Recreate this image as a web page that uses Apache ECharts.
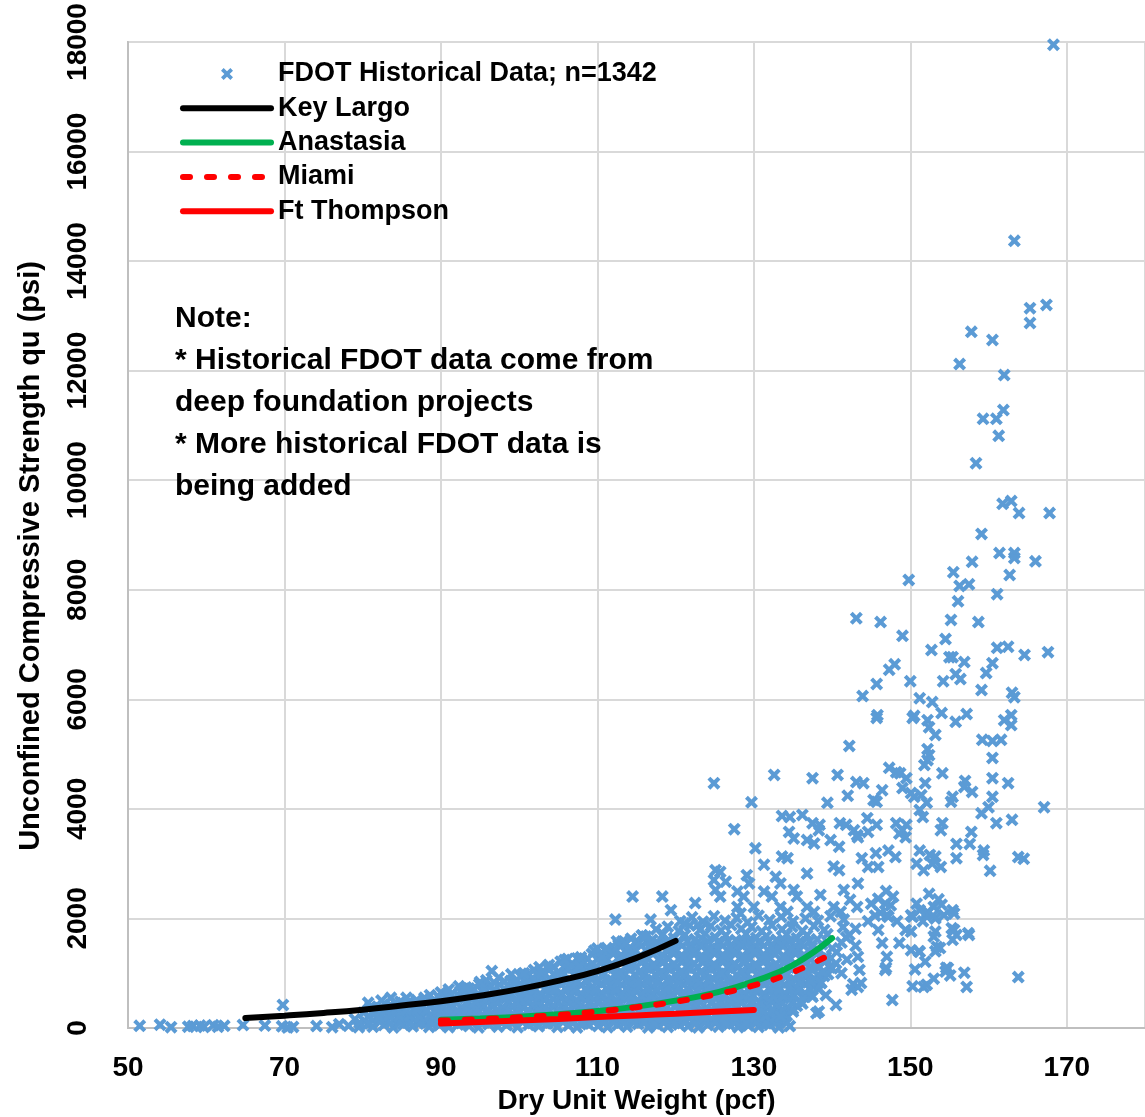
<!DOCTYPE html>
<html><head><meta charset="utf-8">
<script src="https://cdn.jsdelivr.net/npm/echarts@6/dist/echarts.min.js"></script>
<style>html,body{margin:0;padding:0;background:#fff}#c{width:1145px;height:1117px}</style>
</head><body><div id="c"></div><script>
// ---------- text ----------
const SERIES_NAMES = ['FDOT Historical Data; n=1342', 'Key Largo', 'Anastasia', 'Miami', 'Ft Thompson'];
const X_TITLE = 'Dry Unit Weight (pcf)';
const Y_TITLE = 'Unconfined Compressive Strength qu (psi)';
const NOTE_LINES = ['Note:', '* Historical FDOT data come from', 'deep foundation projects', '* More historical FDOT data is', 'being added'];
const X_TICKS = [50, 70, 90, 110, 130, 150, 170];
const Y_TICKS = [0, 2000, 4000, 6000, 8000, 10000, 12000, 14000, 16000, 18000];

// ---------- trend curves ----------
const keyLargo = [[65,183],[70,225],[75,275],[80,335],[85,410],[90,490],[95,590],[100,710],[105,860],[110,1040],[115,1280],[120,1590]];
const anastasia = [[90,150],[95,175],[100,205],[105,250],[110,310],[115,390],[120,500],[125,640],[130,850],[135,1150],[140,1640]];
const miami = [[90,135],[95,160],[100,195],[105,240],[110,300],[115,380],[120,480],[125,610],[130,780],[135,1020],[140,1360]];
const ftThompson = [[90,82],[95,110],[100,135],[105,165],[110,200],[115,230],[120,260],[125,295],[130,330]];

// ---------- FDOT scatter ----------
const fdotLeft = [[51.5,40],[54.1,60],[55.5,15],[57.7,25],[58.3,35],[59.2,45],[59.7,20],[60.9,50],[61.5,25],[62.3,40],[64.7,55],[67.5,45],[69.8,420],[69.7,30],[70.4,10],[71.1,20],[74.1,35],[76.1,15],[77.0,70]];

const fdotBandLow = [
[78.2,40],[79.5,15],[80.6,70],[81.3,25],[82.7,55],[83.9,10],[85.2,60],[86.4,30],[87.1,80],[88.5,20],[89.8,50],[91.0,15],[92.2,65],[93.6,35],[94.8,10],[96.1,70],[97.3,25],[98.4,55],[99.8,15],[101.2,60],[102.5,30],[103.6,80],[104.9,20],[106.3,45],[107.4,10],[108.8,70],[110.1,35],[111.3,15],[112.6,60],[113.8,25],[115.2,75],[116.5,10],[117.7,50],[119.0,20],[120.4,65],[121.6,30],[122.9,10],[124.1,55],[125.5,25],[126.8,70],[128.0,15],[129.3,45],[130.6,20],[132.0,60],[133.2,10],[134.6,35],
[79.0,160],[80.2,130],[81.9,185],[83.1,140],[84.5,175],[85.8,135],[87.6,190],[88.9,150],[90.3,170],[91.6,130],[92.9,185],[94.2,145],[95.5,175],[96.8,130],[98.0,190],[99.1,150],[100.5,165],[101.8,135],[103.0,185],[104.3,140],[105.6,175],[106.9,130],[108.1,190],[109.4,150],[110.7,170],[112.0,135],[113.2,185],[114.5,145],[115.9,175],[117.1,130],[118.4,190],[119.7,150],[121.0,170],[122.3,135],[123.5,185],[124.8,140],[126.1,175],[127.4,130],[128.7,190],[130.0,150],[131.3,170],[132.6,135],[133.9,185],
[80.1,280],[81.4,250],[82.6,300],[84.0,260],[85.3,290],[86.7,245],[88.0,305],[89.4,265],[90.7,285],[92.0,250],[93.3,300],[94.6,260],[95.9,290],[97.2,245],[98.6,305],[99.9,265],[101.1,285],[102.4,250],[103.8,300],[105.1,260],[106.4,290],[107.7,245],[109.0,305],[110.3,265],[111.6,285],[112.9,250],[114.2,300],[115.5,260],[116.8,290],[118.1,245],[119.4,305],[120.7,265],[122.0,285],[123.3,250],[124.6,300],[125.9,260],[127.2,290],[128.5,245],[129.8,305],[131.1,265],[132.4,285],[133.7,250],[135.0,300],
[81.0,390],[82.2,360],[83.5,420],[84.9,370],[86.1,410],[87.4,355],[88.8,400],[90.1,375],[91.4,425],[92.7,360],[94.0,405],[95.3,370],[96.6,420],[97.9,355],[99.2,400],[100.5,375],[101.8,425],[103.1,360],[104.4,405],[105.7,370],[107.0,420],[108.3,355],[109.6,400],[110.9,375],[112.2,425],[113.5,360],[114.8,405],[116.1,370],[117.4,420],[118.7,355],[120.0,400],[121.3,375],[122.6,425],[123.9,360],[125.2,405],[126.5,370],[127.8,420],[129.1,355],[130.4,400],[131.7,375],[133.0,425],[134.3,360],[135.5,405]
];

const fdotFillLow = [
[79.6,95],[80.9,80],[82.2,110],[83.5,90],[84.8,100],[86.1,85],[87.4,105],[88.7,95],[90.0,80],[91.3,110],[92.6,90],[93.9,100],[95.2,85],[96.5,105],[97.8,95],[99.1,80],[100.4,110],[101.7,90],[103.0,100],[104.3,85],[105.6,105],[106.9,95],[108.2,80],[109.5,110],[110.8,90],[112.1,100],[113.4,85],[114.7,105],[116.0,95],[117.3,80],[118.6,110],[119.9,90],[121.2,100],[122.5,85],[123.8,105],[125.1,95],[126.4,80],[127.7,110],[129.0,90],[130.3,100],[131.6,85],[132.9,105],[134.2,95],
[80.8,215],[82.1,200],[83.4,230],[84.7,210],[86.0,220],[87.3,205],[88.6,225],[89.9,215],[91.2,200],[92.5,230],[93.8,210],[95.1,220],[96.4,205],[97.7,225],[99.0,215],[100.3,200],[101.6,230],[102.9,210],[104.2,220],[105.5,205],[106.8,225],[108.1,215],[109.4,200],[110.7,230],[112.0,210],[113.3,220],[114.6,205],[115.9,225],[117.2,215],[118.5,200],[119.8,230],[121.1,210],[122.4,220],[123.7,205],[125.0,225],[126.3,215],[127.6,200],[128.9,230],[130.2,210],[131.5,220],[132.8,205],[134.1,225],
[81.7,335],[83.0,320],[84.3,350],[85.6,330],[86.9,340],[88.2,325],[89.5,345],[90.8,335],[92.1,320],[93.4,350],[94.7,330],[96.0,340],[97.3,325],[98.6,345],[99.9,335],[101.2,320],[102.5,350],[103.8,330],[105.1,340],[106.4,325],[107.7,345],[109.0,335],[110.3,320],[111.6,350],[112.9,330],[114.2,340],[115.5,325],[116.8,345],[118.1,335],[119.4,320],[120.7,350],[122.0,330],[123.3,340],[124.6,325],[125.9,345],[127.2,335],[128.5,320],[129.8,350],[131.1,330],[132.4,340],[133.7,325],[135.0,345],
[84.2,455],[85.5,440],[86.8,470],[88.1,450],[89.4,460],[90.7,445],[92.0,465],[93.3,455],[94.6,440],[95.9,470],[97.2,450],[98.5,460],[99.8,445],[101.1,465],[102.4,455],[103.7,440],[105.0,470],[106.3,450],[107.6,460],[108.9,445],[110.2,465],[111.5,455],[112.8,440],[114.1,470],[115.4,450],[116.7,460],[118.0,445],[119.3,465],[120.6,455],[121.9,440],[123.2,470],[124.5,450],[125.8,460],[127.1,445],[128.4,465],[129.7,455],[131.0,440],[132.3,470],[133.6,450],[134.9,460],[136.2,445]
];

const fdotFillHigh = [
[89.6,580],[90.9,570],[92.2,595],[93.5,575],[94.8,590],[96.1,570],[97.4,585],[98.7,580],[100.0,570],[101.3,595],[102.6,575],[103.9,590],[105.2,570],[106.5,585],[107.8,580],[109.1,570],[110.4,595],[111.7,575],[113.0,590],[114.3,570],[115.6,585],[116.9,580],[118.2,570],[119.5,595],[120.8,575],[122.1,590],[123.4,570],[124.7,585],[126.0,580],[127.3,570],[128.6,595],[129.9,575],[131.2,590],[132.5,570],[133.8,585],[135.1,580],[136.4,570],[137.4,595],
[91.0,705],[92.9,715],[94.2,700],[95.5,720],[96.8,705],[98.1,715],[99.4,700],[100.7,720],[102.0,705],[103.3,715],[104.6,700],[105.9,720],[107.2,705],[108.5,715],[109.8,700],[111.1,720],[112.4,705],[113.7,715],[115.0,700],[116.3,720],[117.6,705],[118.9,715],[120.2,700],[121.5,720],[122.8,705],[124.1,715],[125.4,700],[126.7,720],[128.0,705],[129.3,715],[130.6,700],[131.9,720],[133.2,705],[134.5,715],[135.8,700],[137.1,720],[138.3,705],
[95.0,840],[96.8,830],[98.1,850],[99.5,835],[100.9,845],[102.2,830],[103.5,850],[104.8,835],[106.1,845],[107.4,830],[108.7,850],[110.0,835],[111.3,845],[112.6,830],[113.9,850],[115.2,835],[116.5,845],[117.8,830],[119.1,850],[120.4,835],[121.7,845],[123.0,830],[124.3,850],[125.6,835],[126.9,845],[128.2,830],[129.5,850],[130.8,835],[132.1,845],[133.4,830],[134.7,850],[136.0,835],[137.3,845],[138.6,830],
[99.0,980],[100.4,975],[101.2,990],[102.3,970],[103.3,985],[104.4,975],[105.7,990],[107.0,970],[108.3,985],[109.6,975],[110.9,990],[112.2,970],[113.5,985],[114.8,975],[116.1,990],[117.4,970],[118.7,985],[120.0,975],[121.3,990],[122.6,970],[123.9,985],[125.2,975],[126.5,990],[127.8,970],[129.1,985],[130.4,975],[131.7,990],[133.0,970],[134.3,985],[135.6,975],[136.9,990],[138.2,970],[139.5,985],
[102.6,1110],[104.4,1120],[105.9,1100],[107.2,1115],[108.5,1105],[109.8,1120],[111.1,1100],[112.4,1115],[113.7,1105],[115.0,1120],[116.3,1100],[117.6,1115],[118.9,1105],[120.2,1120],[121.5,1100],[122.8,1115],[124.1,1105],[125.4,1120],[126.7,1100],[128.0,1115],[129.3,1105],[130.6,1120],[131.9,1100],[133.2,1115],[134.5,1105],[135.8,1120],[137.1,1100],[138.4,1115],[139.7,1105],
[106.2,1260],[107.4,1270],[108.7,1255],[110.0,1265],[111.3,1250],[112.6,1270],[113.9,1260],[115.2,1255],[116.5,1270],[117.8,1250],[119.1,1265],[120.4,1260],[121.7,1250],[123.0,1270],[124.3,1255],[125.6,1265],[126.9,1250],[128.2,1270],[129.5,1260],[130.8,1255],[132.1,1270],[133.4,1250],[134.7,1265],[136.0,1260],[137.3,1250],[138.6,1270],
[109.6,1410],[111.0,1420],[112.3,1400],[113.6,1415],[114.9,1405],[116.2,1420],[117.5,1400],[118.8,1415],[120.1,1405],[121.4,1420],[122.7,1400],[124.0,1415],[125.3,1405],[126.6,1420],[127.9,1400],[129.2,1415],[130.5,1405],[131.8,1420],[133.1,1400],[134.4,1415],[135.7,1405],[137.0,1420],[138.3,1400],
[113.2,1580],[114.9,1570],[116.3,1585],[117.6,1565],[118.9,1580],[120.2,1570],[121.5,1585],[122.8,1565],[124.1,1580],[125.4,1570],[126.7,1585],[128.0,1565],[129.3,1580],[130.6,1570],[131.9,1585],[133.2,1565],[134.5,1580],[135.8,1570],[137.1,1585]
];

const fdotBandMid = [
[80.7,460],[82.4,500],[83.6,550],[84.8,480],[85.6,550],[86.9,510],[87.9,550],[89.0,470],[90.4,530],[91.8,490],[93.1,545],[94.4,475],[95.7,520],[97.0,495],[98.3,540],[99.6,470],[100.9,525],[102.2,490],[103.5,545],[104.8,475],[106.1,520],[107.4,495],[108.7,540],[110.0,470],[111.3,525],[112.6,490],[113.9,545],[115.2,475],[116.5,520],[117.8,495],[119.1,540],[120.4,470],[121.7,525],[123.0,490],[124.3,545],[125.6,475],[126.9,520],[128.2,495],[129.5,540],[130.8,470],[132.1,525],[133.4,490],[134.7,545],[136.0,480],
[88.6,600],[90.0,650],[91.3,610],[92.5,670],[93.9,620],[95.2,680],[96.4,600],[97.7,650],[99.0,615],[100.3,675],[101.6,630],[102.9,595],[104.2,660],[105.5,620],[106.8,680],[108.1,600],[109.4,650],[110.7,615],[112.0,675],[113.3,630],[114.6,595],[115.9,660],[117.2,620],[118.5,680],[119.8,600],[121.1,650],[122.4,615],[123.7,675],[125.0,630],[126.3,595],[127.6,660],[128.9,620],[130.2,680],[131.5,600],[132.8,650],[134.1,615],[135.4,675],[136.6,630],
[92.3,760],[93.6,720],[94.9,800],[96.2,740],[97.5,790],[98.8,730],[100.1,810],[101.4,750],[102.7,790],[104.0,725],[105.3,805],[106.6,745],[107.9,785],[109.2,730],[110.5,810],[111.8,750],[113.1,790],[114.4,725],[115.7,805],[117.0,745],[118.3,785],[119.6,730],[120.9,810],[122.2,750],[123.5,790],[124.8,725],[126.1,805],[127.4,745],[128.7,785],[130.0,730],[131.3,810],[132.6,750],[133.9,790],[135.2,725],[136.5,805],[137.6,750],
[95.8,870],[97.4,920],[98.9,860],[100.2,940],[101.5,880],[102.8,950],[104.1,870],[105.4,930],[106.7,860],[108.0,945],[109.3,885],[110.6,955],[111.9,870],[113.2,925],[114.5,860],[115.8,940],[117.1,880],[118.4,950],[119.7,870],[121.0,930],[122.3,860],[123.6,945],[124.9,885],[126.2,955],[127.5,870],[128.8,925],[130.1,860],[131.4,940],[132.7,880],[134.0,950],[135.3,870],[136.6,930],[137.9,880],[139.0,950]
];

const fdotBandHigh = [
[100.6,1000],[101.9,1060],[102.9,1010],[103.7,1090],[105.0,1020],[106.3,1080],[107.6,995],[108.9,1070],[110.2,1030],[111.5,1095],[112.8,1005],[114.1,1065],[115.4,1025],[116.7,1085],[118.0,1000],[119.3,1060],[120.6,1010],[121.9,1090],[123.2,1020],[124.5,1080],[125.8,995],[127.1,1070],[128.4,1030],[129.7,1095],[131.0,1005],[132.3,1065],[133.6,1025],[134.9,1085],[136.2,1000],[137.5,1060],[138.8,1020],[140.0,1090],
[103.8,1150],[105.3,1210],[106.7,1140],[108.0,1240],[109.4,1170],[110.7,1220],[112.0,1135],[113.3,1250],[114.6,1180],[115.9,1230],[117.2,1145],[118.5,1215],[119.8,1160],[121.1,1245],[122.4,1175],[123.7,1225],[125.0,1140],[126.3,1240],[127.6,1165],[128.9,1215],[130.2,1150],[131.5,1250],[132.8,1170],[134.1,1225],[135.4,1140],[136.7,1210],[138.0,1160],[139.3,1240],[140.5,1180],
[107.9,1290],[109.3,1350],[110.6,1300],[111.9,1390],[113.2,1310],[114.5,1370],[115.8,1285],[117.1,1360],[118.4,1320],[119.7,1395],[121.0,1300],[122.3,1350],[123.6,1285],[124.9,1380],[126.2,1315],[127.5,1365],[128.8,1290],[130.1,1395],[131.4,1325],[132.7,1355],[134.0,1290],[135.3,1375],[136.6,1310],[137.9,1360],[139.2,1300],[140.6,1385],
[111.2,1460],[112.7,1520],[114.0,1440],[115.3,1550],[116.6,1470],[117.9,1530],[119.2,1445],[120.5,1555],[121.8,1475],[123.1,1515],[124.4,1440],[125.7,1545],[127.0,1465],[128.3,1525],[129.6,1450],[130.9,1560],[132.2,1480],[133.5,1520],[134.8,1445],[136.1,1540],[137.4,1470],[138.7,1530],[140.0,1455],[141.2,1560],
[114.3,1630],[115.7,1690],[117.0,1610],[118.4,1710],[119.8,1640],[121.2,1700],[122.5,1620],[123.8,1720],[125.1,1650],[126.4,1690],[127.7,1605],[129.0,1715],[130.3,1645],[131.6,1680],[132.9,1610],[134.2,1705],[135.5,1640],[136.8,1695],[138.1,1620],[139.4,1710],[141.8,1650],
[117.5,1800],[119.0,1850],[120.4,1770],[121.8,1870],[123.1,1790],[124.5,1860],[125.8,1780],[127.1,1880],[128.4,1810],[129.7,1845],[131.0,1765],[132.3,1875],[133.6,1800],[134.9,1850],[136.2,1775],[137.7,1860],[139.0,1790],[141.4,1840],[143.0,1810],
[120.6,1950],[122.1,2020],[123.5,1940],[124.9,2040],[126.3,1960],[127.8,2010],[129.2,1930],[130.6,2050],[132.0,1970],[133.5,2030],[135.0,1945],[136.6,2000],[138.2,1960],[139.8,2040],[141.5,1980]
];

const fdotScatterMid = [
[93.2,740],[96.5,1040],[105.8,1240],[107.7,1130],[110.0,1450],[112.5,1580],[113.6,1550],[115.7,1690],[116.2,1670],
[124.9,4470],[129.7,4120],[132.6,4620],[127.5,3630],[130.2,3280],[133.6,3870],[134.5,3580],[135.1,3460],[138.3,3610],[136.8,3430],[137.7,3370],[143.2,3520],[139.8,3430],[140.9,3310],[133.6,3130],[134.3,3100],[131.3,2980],[136.8,2820],[140.2,2950],[140.9,2880],
[125.1,2880],[125.7,2850],[124.9,2700],[126.4,2670],[125.1,2520],[125.7,2400],[129.1,2790],[129.4,2640],[132.8,2760],[133.4,2640],[127.9,2490],[128.7,2400],[131.3,2490],[132.3,2400],[135.1,2520],[135.5,2400],[138.5,2430],[141.5,2520],[142.3,2340],
[114.5,2400],[118.3,2400],[119.4,2150],[122.5,2280],[112.3,1980],[116.8,1980],[127.9,2210],[128.3,2090],[130.0,2210],[133.4,2210],[134.3,2120],[136.8,2210],[137.7,2120],[140.2,2210],[141.1,2120],[143.2,2210],[121.1,1910],[122.8,1880],
[138.3,300],[133.4,210],[138.0,270],[137.5,570],[139.2,600],[140.5,420],[138.6,820],[141.2,1000],[142.5,700],[141.9,1250],[143.0,1500],[142.2,1700]
];

const fdotScatterRight = [
[143.8,3100],[145.6,3190],[152.5,3160],[153.2,3130],[155.9,3100],[159.3,3160],[164.5,3090],[160.2,2870],[157.8,3580],[155.9,3360],[157.6,3360],[159.4,3240],[153.9,3610],[152.8,3000],[153.9,2940],[149.0,3610],[149.4,3480],[151.2,3240],[150.8,3000],[151.7,2880],[148.6,3550],[144.6,3580],[147.2,3240],[148.1,3120],[145.9,2940],[142.8,3610],[143.3,3480],[144.6,2940],[143.3,2640],
[145.9,2360],[147.5,2240],[147.0,2060],[150.1,2060],[152.2,2120],[153.2,2000],[154.3,2060],[155.3,1820],[155.9,1700],[157.5,1700],[153.2,1760],[153.8,1460],[153.2,1400],[150.1,1760],[151.1,1400],[150.6,1070],[151.7,750],[153.0,900],[154.6,1100],[155.1,960],[156.9,1010],[157.2,750],[163.8,930],[147.7,510],[146.9,1100],[142.7,800],[143.3,750],
[155.4,2150],[155.6,2090],[153.0,2210],[152.1,2090],[151.2,2150],[150.3,2030],[150.8,2270],[157.4,1730],[155.6,1790],[155.4,1610],[153.4,1480],[153.0,1670],[149.4,1790],[148.6,1550],[151.2,1390],[150.1,1420],[151.9,1210],[154.8,1090],[154.5,1030],[152.1,790],[150.3,760],[146.8,1060],[145.0,2270],[146.8,2270],[147.2,2030],[145.9,1790],[146.4,1550],[147.0,1300],[143.3,1300],[143.5,1060],[143.7,820],
[146.2,2100],[147.8,2400],[145.5,2050],[148.3,1950],[146.9,2500],[144.6,1950],[152.9,2050],[154.0,2250],[151.6,1950],[153.6,2350],[152.4,2450]
];

const fdotScatterUpper = [
[149.8,8180],[155.5,8320],[162.7,8270],[156.3,8070],[157.5,8100],[156.1,7790],[161.1,7920],[143.1,7480],[146.2,7410],[155.2,7450],[158.7,7410],[149.0,7160],[154.5,7100],[152.7,6900],[155.0,6770],[155.4,6770],[156.9,6680],[161.1,6940],[162.5,6960],[160.5,6660],[159.7,6480],[148.0,6640],[147.3,6540],[155.8,6460],[156.4,6370],[154.2,6330],[145.7,6280],[150.0,6330],[143.9,6060],[159.1,6170],[163.0,6120],[163.3,6040],[151.2,6020],[152.8,5950],[154.0,5750],[145.8,5710],[145.7,5660],[150.5,5700],[150.3,5660],[152.2,5620],[152.4,5490],[155.8,5590],[157.2,5730],[162.9,5710],[162.9,5530],[162.0,5620],[153.2,5350],[142.2,5150],[159.2,5260],[160.5,5240],[161.6,5260],[152.2,5090],[152.4,4980],[152.2,4890],[160.5,4930],[151.8,4800],
[137.5,4560],[140.7,4620],[147.3,4750],[148.2,4670],[148.7,4650],[143.1,4490],[144.0,4470],[149.5,4560],[149.0,4380],[151.9,4470],[154.1,4650],[157.0,4510],[156.9,4400],[157.9,4310],[160.5,4560],[162.5,4470],[142.0,4240],[146.4,4340],[150.1,4290],[150.5,4220],[151.4,4250],[145.3,4160],[145.7,4130],[139.4,4110],[155.4,4220],[155.2,4130],[160.5,4220],[160.0,4030],[159.1,3920],[152.1,4110],[151.2,3980],[151.6,3850],[134.6,3850],[136.2,3890],[137.5,3740],[138.4,3710],[141.0,3740],[141.8,3710],[144.5,3830],[145.7,3710],[148.2,3740],[149.5,3710],[154.1,3740],[161.0,3740],[163.0,3800],
[167.1,4030],[163.8,3120],[167.6,6860],[164.6,6810],
[168.3,17950],[163.3,14370],[165.3,13140],[167.4,13200],[165.3,12870],[157.8,12710],[160.5,12560],[156.3,12120],[162.0,11920],[161.9,11280],[159.3,11120],[161.0,11120],[161.3,10810],[158.4,10310],[161.8,9570],[162.9,9620],[163.9,9400],[167.8,9400],[159.1,9020],[161.4,8670],[163.3,8670],[163.3,8580],[166.0,8520],[157.9,8510]
];

const fdotAll = [].concat(fdotLeft, fdotBandLow, fdotFillLow, fdotBandMid, fdotFillHigh, fdotBandHigh, fdotScatterMid, fdotScatterRight, fdotScatterUpper);

// ---------- styling ----------
const MAIN = '"Liberation Sans", Arial, sans-serif';
const X_PATH = 'path://M0,2.2L2.2,0L5,2.8L7.8,0L10,2.2L7.2,5L10,7.8L7.8,10L5,7.2L2.2,10L0,7.8L2.8,5Z';
const BLUE = '#5B9BD5';
const HIDE_SYMBOL = { color: 'rgba(0,0,0,0)', opacity: 0, borderWidth: 0 };

const chart = echarts.init(document.getElementById('c'));
const lineSeries = (name, data, color, type) => ({
  name, type: 'line', data, smooth: true, symbol: 'none', z: 5,
  lineStyle: { color, width: 6, type: type || 'solid', cap: 'round' },
  itemStyle: { color }
});

chart.setOption({
  animation: false,
  backgroundColor: '#ffffff',
  grid: { left: 128, right: 0, top: 42, bottom: 89, show: true, borderColor: '#bfbfbf', borderWidth: 2, outerBoundsMode: 'none', containLabel: false },
  xAxis: {
    type: 'value', min: 50, max: 180, interval: 20,
    axisLine: { show: true, onZero: false, lineStyle: { color: '#bfbfbf', width: 2 } },
    axisTick: { show: false },
    splitLine: { show: true, lineStyle: { color: '#d9d9d9', width: 2 } },
    axisLabel: { color: '#000', fontSize: 28, fontWeight: 'bold', fontFamily: MAIN, margin: 26, showMaxLabel: false,
      formatter: v => X_TICKS.indexOf(v) >= 0 ? String(v) : '' },
    name: X_TITLE, nameLocation: 'middle', nameGap: 52,
    nameTextStyle: { color: '#000', fontSize: 28, fontWeight: 'bold', fontFamily: MAIN }
  },
  yAxis: {
    type: 'value', min: 0, max: 18000, interval: 2000,
    axisLine: { show: true, onZero: false, lineStyle: { color: '#bfbfbf', width: 2 } },
    axisTick: { show: false },
    splitLine: { show: true, lineStyle: { color: '#d9d9d9', width: 2 } },
    axisLabel: { color: '#000', fontSize: 28, fontWeight: 'bold', fontFamily: MAIN, rotate: 90, margin: 36,
      formatter: v => Y_TICKS.indexOf(v) >= 0 ? String(v) : '' }
  },
  legend: {
    orient: 'vertical', left: 180, top: 59, padding: 0, itemWidth: 88, itemHeight: 12, itemGap: 4.3,
    selectedMode: false, symbolKeepAspect: true,
    lineStyle: { width: 6, cap: 'round' },
    textStyle: { color: '#000', fontSize: 27, fontWeight: 'bold', fontFamily: MAIN, lineHeight: 30, padding: [0, 0, 0, 2] },
    data: [
      { name: SERIES_NAMES[0], icon: X_PATH },
      { name: SERIES_NAMES[1], itemStyle: HIDE_SYMBOL },
      { name: SERIES_NAMES[2], itemStyle: HIDE_SYMBOL },
      { name: SERIES_NAMES[3], itemStyle: HIDE_SYMBOL },
      { name: SERIES_NAMES[4], itemStyle: HIDE_SYMBOL }
    ]
  },
  graphic: [
    { type: 'text', left: 175, top: 298, z: 10,
      style: { text: NOTE_LINES.join('\n'), fontSize: 30, fontWeight: 'bold', fontFamily: MAIN, lineHeight: 42, fill: '#000' } },
    { type: 'text', x: 31, y: 556, rotation: Math.PI / 2, z: 10,
      style: { text: Y_TITLE, fontSize: 29, fontWeight: 'bold', fontFamily: MAIN, fill: '#000', align: 'center', verticalAlign: 'middle' } }
  ],
  series: [
    { name: SERIES_NAMES[0], type: 'scatter', data: fdotAll, symbol: X_PATH, symbolSize: 13, symbolKeepAspect: true,
      itemStyle: { color: BLUE, opacity: 1 }, z: 2, large: false },
    lineSeries(SERIES_NAMES[1], keyLargo, '#000000'),
    lineSeries(SERIES_NAMES[2], anastasia, '#00B050'),
    lineSeries(SERIES_NAMES[3], miami, '#FF0000', [7, 17]),
    lineSeries(SERIES_NAMES[4], ftThompson, '#FF0000')
  ]
});
</script></body></html>
